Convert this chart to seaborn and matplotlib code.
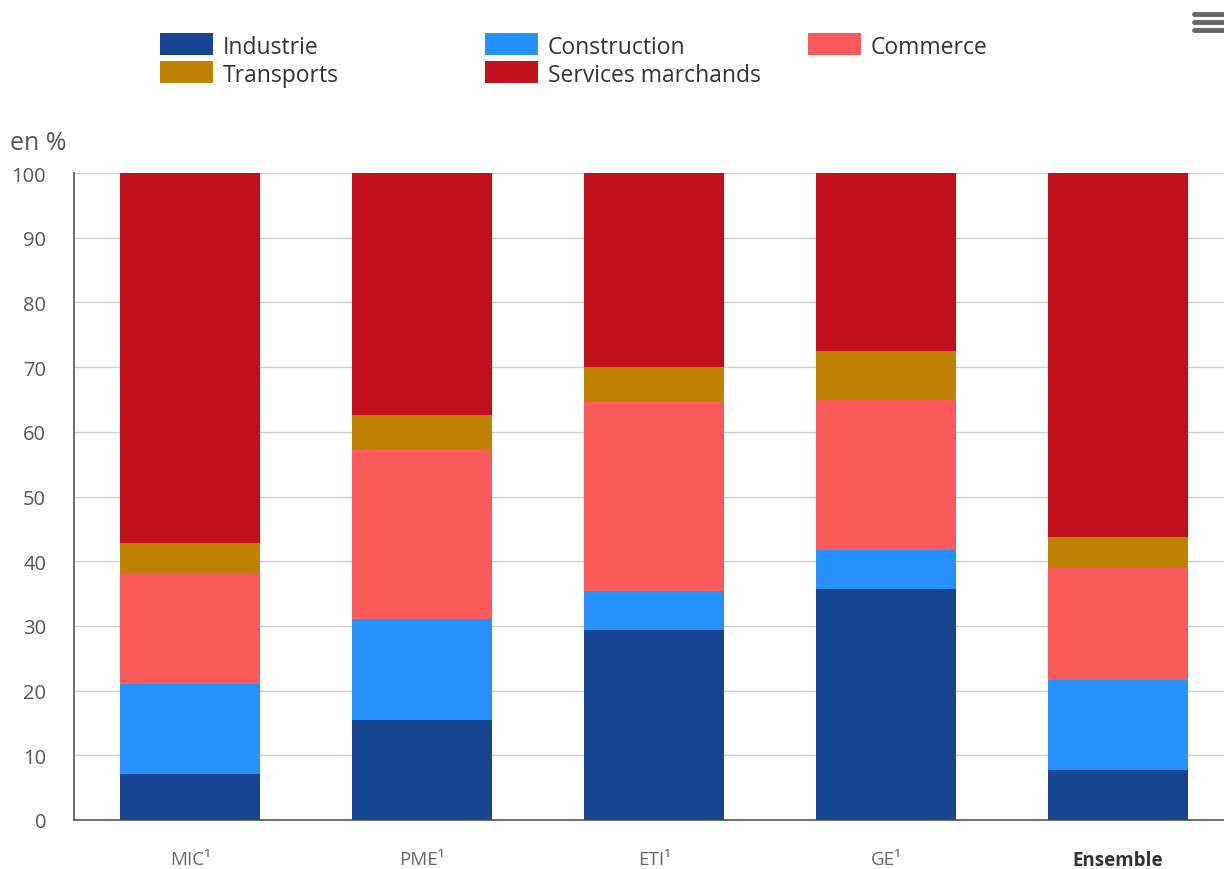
import matplotlib
matplotlib.use("Agg")
import matplotlib.pyplot as plt
import seaborn as sns
import pandas as pd
import numpy as np
from matplotlib.patches import Rectangle
from matplotlib.lines import Line2D

categories = ["MIC¹", "PME¹", "ETI¹", "GE¹", "Ensemble"]
series_names = ["Industrie", "Construction", "Commerce", "Transports", "Services marchands"]
industrie = [7.1, 15.5, 29.4, 35.7, 7.7]
construction = [13.9, 15.6, 6.0, 6.0, 13.9]
commerce = [17.0, 26.2, 29.4, 23.2, 17.3]
transports = [4.8, 5.3, 5.2, 7.6, 4.8]
services = [57.2, 37.4, 30.0, 27.5, 56.3]
colors = ["#174592", "#2591FF", "#FA5A5A", "#BE8200", "#C2101E"]
yticks = [0, 10, 20, 30, 40, 50, 60, 70, 80, 90, 100]

sns.set_theme(style="white")
plt.rcParams["font.family"] = ["Open Sans", "DejaVu Sans"]

values = [industrie, construction, commerce, transports, services]
rows = []
for name, vals in zip(series_names, values):
    for c, v in zip(categories, vals):
        rows.append({"cat": c, "serie": name, "val": v})
df = pd.DataFrame(rows)
df["cum"] = df.groupby("cat", sort=False)["val"].cumsum()

fig = plt.figure(figsize=(12.24, 8.70), dpi=100)
ax = fig.add_axes([74/1224, 1-821/870, 1-74/1224, (821-174)/870])

for name, col in reversed(list(zip(series_names, colors))):
    sub = df[df["serie"] == name]
    sns.barplot(data=sub, x="cat", y="cum", order=categories, color=col,
                width=0.6, saturation=1, ax=ax, zorder=3, linewidth=0)

ax.set_ylim(0, 100)
ax.set_xlim(-0.5, -0.5 + (1224-74)/232)
ax.set_yticks(yticks)
ax.set_yticklabels([str(t) for t in yticks], fontsize=14.5, color="#555555")
ax.yaxis.grid(True, color="#d0d0d0", linewidth=1, zorder=0)
ax.set_axisbelow(True)
ax.set_xlabel("")
ax.set_ylabel("")
ax.tick_params(axis="y", length=0, pad=20)
ax.tick_params(axis="x", length=0, pad=21.5)
for lab in ax.get_xticklabels():
    lab.set_fontsize(13.5)
    if lab.get_text() == "Ensemble":
        lab.set_fontweight("bold")
        lab.set_color("#333333")
    else:
        lab.set_color("#666666")
for s in ["top", "right"]:
    ax.spines[s].set_visible(False)
ax.spines["left"].set_color("#555555")
ax.spines["left"].set_linewidth(1.2)
ax.spines["bottom"].set_color("#555555")
ax.spines["bottom"].set_linewidth(1.2)

fig.text(10/1224, 1-143/870, "en %", fontsize=18, color="#555555", va="center", ha="left")

# legend
W, H = 1224, 870
leg_pos = [(160, 45), (485, 45), (808, 45), (160, 73), (485, 73)]
for (x, y), name, col in zip(leg_pos, series_names, colors):
    fig.patches.append(Rectangle((x/W, 1-(y+11)/H), 53/W, 22/H, transform=fig.transFigure,
                                 facecolor=col, edgecolor="none"))
    fig.text((x+63)/W, 1-(y+3)/H, name, fontsize=16.5, color="#333333", va="center", ha="left")

# menu icon
for yy in [15, 23, 31]:
    fig.add_artist(Line2D([1194/W, 1224/W], [1-yy/H, 1-yy/H], color="#666666", linewidth=3.5,
                          transform=fig.transFigure))

fig.savefig("out.png", dpi=100)
